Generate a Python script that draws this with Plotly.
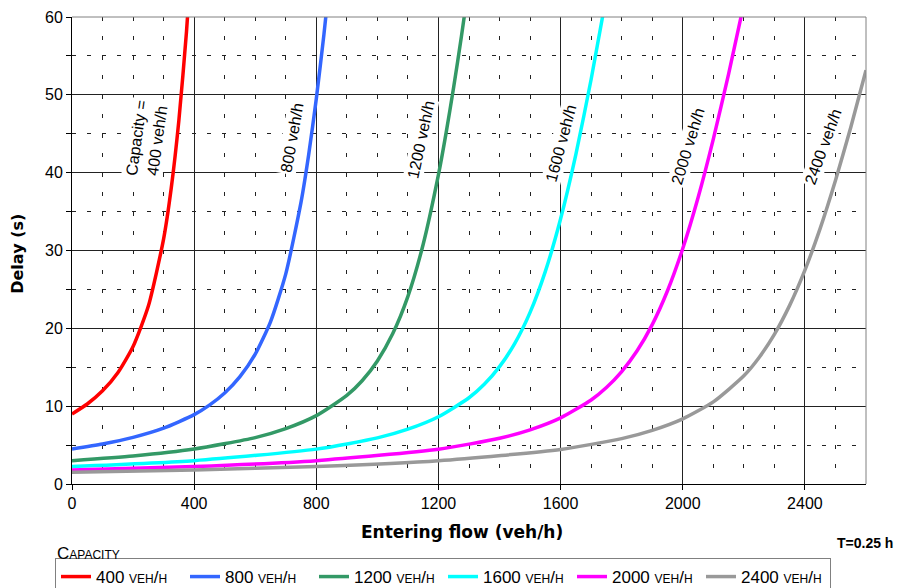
import plotly.graph_objects as go

# Entering flow (veh/h) and delay (s), one pair of lists per capacity
flow_400 = [0, 50, 100, 150, 200, 250, 300, 325, 350, 375, 400]
delay_400 = [9.0, 10.28, 11.97, 14.30, 17.67, 22.86, 31.5, 38.02, 46.71, 58.14, 72.6]

flow_800 = [0, 100, 200, 300, 400, 450, 500, 550, 600, 650, 700, 750, 775, 800, 825, 850]
delay_800 = [4.5, 5.14, 5.99, 7.17, 8.91, 10.13, 11.69, 13.79, 16.68, 20.84, 27.0, 36.22, 42.31, 49.5, 57.77, 67.03]

flow_1200 = [0, 200, 400, 600, 700, 800, 900, 950, 1000, 1050, 1100, 1150, 1200, 1225, 1250, 1275, 1300]
delay_1200 = [3.0, 3.60, 4.49, 5.96, 7.11, 8.78, 11.38, 13.27, 15.81, 19.29, 24.11, 30.80, 39.74, 45.11, 51.03, 57.46, 64.34]

flow_1600 = [0, 400, 800, 1000, 1100, 1200, 1300, 1350, 1400, 1450, 1500, 1550, 1600, 1650, 1700, 1750]
delay_1600 = [2.25, 3.00, 4.48, 5.92, 7.04, 8.64, 11.08, 12.81, 15.08, 18.07, 22.05, 27.32, 34.07, 42.35, 52.00, 62.74]

flow_2000 = [0, 400, 800, 1200, 1400, 1500, 1600, 1700, 1750, 1800, 1850, 1900, 1950, 2000, 2050, 2100, 2150, 2200]
delay_2000 = [1.8, 2.25, 3.00, 4.46, 5.88, 6.96, 8.50, 10.8, 12.40, 14.45, 17.08, 20.48, 24.83, 30.26, 36.78, 44.31, 52.67, 61.68]

flow_2400 = [0, 400, 800, 1200, 1600, 1800, 1900, 2000, 2100, 2200, 2250, 2300, 2350, 2400, 2450, 2500, 2550, 2600]
delay_2400 = [1.5, 1.80, 2.25, 2.99, 4.44, 5.83, 6.89, 8.37, 10.55, 13.90, 16.26, 19.23, 22.95, 27.48, 32.85, 39.0, 45.81, 53.16]

series_names = ["400 veh/h", "800 veh/h", "1200 veh/h", "1600 veh/h", "2000 veh/h", "2400 veh/h"]
series_colors = ["#FF0000", "#3366FF", "#339966", "#00FFFF", "#FF00FF", "#999999"]
flows = [flow_400, flow_800, flow_1200, flow_1600, flow_2000, flow_2400]
delays = [delay_400, delay_800, delay_1200, delay_1600, delay_2000, delay_2400]

x_ticks = [0, 400, 800, 1200, 1600, 2000, 2400]
y_ticks = [0, 10, 20, 30, 40, 50, 60]

# curve labels (text, position in data units, angle)
label_texts = ["Capacity =<br>400 veh/h", "800 veh/h", "1200 veh/h", "1600 veh/h", "2000 veh/h", "2400 veh/h"]
label_x = [246, 721, 1144, 1600, 2016, 2459]
label_y = [44.3, 44.5, 44.2, 43.8, 43.4, 43.4]
label_angle = [-82, -80, -78, -75, -73, -70]

fig = go.Figure()
for f, d, n, c in zip(flows, delays, series_names, series_colors):
    fig.add_trace(go.Scatter(x=f, y=d, name=n, mode="lines",
                             line=dict(color=c, width=3.5, shape="spline", smoothing=0.6)))

for t, lx, ly, ang in zip(label_texts, label_x, label_y, label_angle):
    fig.add_annotation(x=lx, y=ly, text=t, showarrow=False, textangle=ang,
                       xanchor="center", yanchor="middle",
                       font=dict(family="Liberation Sans, Arial", size=16, color="black"),
                       bgcolor="white", borderpad=1)

tick_font = dict(family="Liberation Sans, Arial", size=16, color="black")

fig.update_xaxes(range=[0, 2600], tickvals=x_ticks, ticks="outside", ticklen=5,
                 tickcolor="black", showline=True, linecolor="black", linewidth=1,
                 showgrid=True, gridcolor="#222222", gridwidth=1, zeroline=False,
                 tickfont=tick_font, automargin=False,
                 minor=dict(dtick=100, tick0=0, showgrid=True, gridcolor="#222222",
                            griddash="4px,15.45px", gridwidth=1, ticks=""))
fig.update_yaxes(range=[0, 60], tickvals=y_ticks, ticks="outside", ticklen=5,
                 tickcolor="black", showline=True, linecolor="black", linewidth=1,
                 showgrid=True, gridcolor="#222222", gridwidth=1, zeroline=False,
                 tickfont=tick_font, automargin=False,
                 minor=dict(dtick=5, tick0=0, showgrid=True, gridcolor="#222222",
                            griddash="4px,11px", gridwidth=1, ticks="outside",
                            ticklen=5, tickcolor="black"))

# frame on top and right
fig.add_shape(type="line", xref="paper", yref="paper", x0=0, x1=1, y0=1, y1=1,
              line=dict(color="#808080", width=1))
fig.add_shape(type="line", xref="paper", yref="paper", x0=1, x1=1, y0=0, y1=1,
              line=dict(color="#808080", width=1))

# axis titles and notes
fig.add_annotation(xref="paper", yref="paper", x=0.491, y=-0.103, xanchor="center", yanchor="middle",
                   text="<b>Entering flow (veh/h)</b>",
                   showarrow=False, font=dict(family="DejaVu Sans", size=17, color="black"))
fig.add_annotation(xref="paper", yref="paper", x=-0.068, y=0.493, xanchor="center", yanchor="middle",
                   text="<b>Delay (s)</b>", textangle=-90, showarrow=False,
                   font=dict(family="DejaVu Sans", size=16, color="black"))
fig.add_annotation(xref="paper", yref="paper", x=1.037, y=-0.126, xanchor="right", yanchor="middle",
                   text="<b>T=0.25 h</b>", showarrow=False,
                   font=dict(family="Liberation Sans, Arial", size=14, color="black"))
fig.add_annotation(xref="paper", yref="paper", x=-0.0214, y=-0.148, xanchor="left", yanchor="middle",
                   text="Capacity", showarrow=False,
                   font=dict(family="Liberation Sans, Arial", size=17, color="black",
                             variant="small-caps"))

fig.update_layout(
    width=901, height=588,
    margin=dict(l=72, r=35, t=17, b=104, autoexpand=False),
    paper_bgcolor="white", plot_bgcolor="white",
    showlegend=True,
    legend=dict(orientation="h", x=-0.0214, xanchor="left", y=-0.1585, yanchor="top",
                bordercolor="#808080", borderwidth=1, bgcolor="white",
                font=dict(family="Liberation Sans, Arial", size=17, color="black",
                          variant="small-caps"),
                itemwidth=30, entrywidth=84, entrywidthmode="pixels",
                tracegroupgap=0, traceorder="normal"),
)

fig.write_html("out.html", config={"displayModeBar": False},
               post_script="document.body.style.margin='0px';document.body.style.overflow='hidden';")
